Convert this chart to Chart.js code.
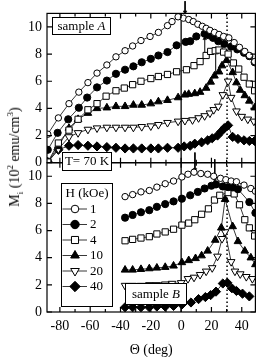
<!DOCTYPE html>
<html>
<head>
<meta charset="utf-8">
<script src="https://cdn.jsdelivr.net/npm/chart.js@4.4.1/dist/chart.umd.min.js"></script>
<style>
  html, body { margin: 0; padding: 0; background: #fff; }
  #wrap { position: relative; width: 261px; height: 357px; }
  #yTitle {
    position: absolute; left: 14.5px; top: 157px;
    transform: translate(-50%, -50%) rotate(-90deg);
    font: 14px "Liberation Serif", serif; color: #000;
    white-space: nowrap; line-height: 1;
  }
  #yTitle sup, #yTitle sub { font-size: 9px; line-height: 0; }
</style>
</head>
<body>
<div id="wrap">
  <canvas id="chart" width="261" height="357"></canvas>
  <div id="yTitle">M<sub>i</sub> (10<sup>2</sup> emu/cm<sup>3</sup>)</div>
</div>
<script>
// --- DATA: sample A (top panel) ---
const angA1 = [-88, -81, -74, -67.5, -61.5, -55.5, -49, -43, -37, -32, -26.5, -20.5, -15, -9, -6, -2, 1.5, 5, 8, 11, 14, 16.5, 19, 22, 25, 28, 31.5, 35, 38.5, 42, 45, 48.5];
const magA1 = [2.1, 3.3, 4.35, 5.2, 5.9, 6.6, 7.2, 7.8, 8.25, 8.6, 9.0, 9.3, 9.6, 10.1, 10.4, 10.75, 10.65, 10.55, 10.4, 10.2, 10.05, 9.9, 9.75, 9.6, 9.45, 9.3, 9.2, 8.85, 8.5, 8.2, 7.9, 7.45];
const angA2 = [-88, -81.5, -74.5, -67.5, -62, -55.5, -49, -43, -37, -31.5, -26, -20, -15, -9, -3, 3, 6, 10, 15.5, 18, 21, 24.5, 28.5, 33, 37, 41.5, 45, 48.5];
const magA2 = [0.95, 2.2, 3.2, 4.05, 4.8, 5.55, 6.05, 6.55, 6.85, 7.1, 7.4, 7.65, 7.9, 8.15, 8.65, 8.9, 8.95, 9.3, 9.5, 9.4, 9.2, 8.95, 8.75, 8.55, 8.35, 8.1, 7.85, 7.4];
const angA4 = [-88, -81, -74, -68, -61.5, -55.5, -49.5, -43, -37.5, -32, -26.5, -20, -15, -9, -3, 3.5, 8.5, 12.5, 16.5, 19.5, 22.5, 25, 28, 31, 34.5, 38, 41.5, 45, 48.5];
const magA4 = [0.05, 1.45, 2.4, 3.2, 3.9, 4.35, 4.9, 5.3, 5.5, 5.75, 6.0, 6.2, 6.35, 6.5, 6.7, 6.85, 7.15, 7.45, 7.9, 8.2, 8.25, 8.3, 8.15, 8.0, 7.35, 6.9, 6.3, 5.8, 5.3];
const angA10 = [-88, -81, -74, -68, -61.5, -55.5, -49, -43, -37, -31.5, -26, -20, -15, -9, -2, 2.5, 5, 9, 12.5, 16.5, 19.5, 22, 25, 27, 30, 34, 36.5, 39, 42, 45, 48.5];
const magA10 = [0.05, 1.2, 2.55, 3.2, 3.65, 4.0, 4.05, 4.15, 4.15, 4.25, 4.25, 4.35, 4.5, 4.6, 4.8, 5.0, 5.05, 5.1, 5.2, 5.5, 5.95, 6.4, 6.7, 7.15, 7.55, 6.65, 5.9, 5.35, 4.95, 4.55, 4.05];
const angA20 = [-88, -81, -74, -68, -61.5, -55.5, -49, -43, -37, -31.5, -26, -20, -15, -9, -2, 2.5, 7.5, 11.5, 15.5, 19, 21.5, 24.5, 27.5, 31, 33, 36.5, 40, 44, 48];
const magA20 = [0.05, 1.0, 1.9, 2.2, 2.45, 2.55, 2.6, 2.6, 2.6, 2.6, 2.65, 2.7, 2.8, 2.95, 3.05, 3.1, 3.15, 3.3, 3.45, 3.65, 3.9, 4.15, 5.0, 6.0, 4.8, 3.8, 3.4, 3.2, 3.05];
const angA40 = [-88, -81, -74, -68, -61.5, -55.5, -49, -43, -37, -31.5, -26, -20, -15, -9, -2, 2, 6, 9, 13.5, 17.5, 20.5, 24, 26.5, 28.5, 31, 34, 37.5, 41.5, 45, 48.5];
const magA40 = [0.05, 0.95, 1.25, 1.3, 1.25, 1.2, 1.15, 1.1, 1.05, 1.05, 1.05, 1.05, 1.05, 1.1, 1.1, 1.2, 1.25, 1.4, 1.5, 1.65, 1.8, 2.0, 2.3, 2.55, 2.75, 1.9, 1.75, 1.65, 1.6, 1.6];

// --- DATA: sample B (bottom panel) ---
const angB1 = [-37, -32, -26.5, -21, -16, -10.5, -5, 0.5, 4.5, 8.5, 13, 17.5, 21.5, 26, 29.5, 33, 36.5, 41.5, 46, 49];
const magB1 = [8.5, 8.65, 8.85, 8.95, 9.2, 9.45, 9.65, 9.95, 10.15, 10.3, 10.2, 10.15, 10.0, 9.85, 9.75, 9.65, 9.6, 9.35, 9.1, 8.9];
const angB2 = [-37, -32, -26.5, -21, -16, -10.5, -5, 0.5, 6, 11, 15.5, 20, 23, 27.5, 31, 34, 37.5, 45, 49];
const magB2 = [6.95, 7.15, 7.35, 7.5, 7.75, 7.95, 8.15, 8.35, 8.6, 8.85, 9.1, 9.3, 9.4, 9.25, 9.2, 9.2, 9.05, 8.1, 7.3];
const angB4 = [-37, -32, -26.5, -21, -16, -10.5, -5, 0.5, 5, 9, 13.5, 18, 22, 25.5, 31, 35, 38.5, 42, 45, 48.5];
const magB4 = [5.25, 5.35, 5.45, 5.55, 5.75, 5.9, 6.1, 6.4, 6.55, 6.8, 7.2, 7.6, 8.25, 8.6, 8.8, 8.7, 7.9, 6.8, 6.2, 5.6];
const angB10 = [-37, -32, -26.5, -21, -16, -10.5, -5, 0.5, 5, 9.5, 13.5, 17.5, 22.5, 26.5, 29, 34, 37.5, 42, 46, 49];
const magB10 = [3.1, 3.1, 3.15, 3.2, 3.25, 3.3, 3.4, 3.65, 3.8, 3.95, 4.15, 4.5, 5.3, 6.2, 8.3, 6.3, 5.2, 4.5, 4.0, 3.5];
const angB20 = [-37, -32, -26.5, -21, -16, -10.5, -6, 0, 4.5, 8.5, 12.5, 16.5, 20.5, 24, 27, 29, 33, 35.5, 39, 43, 47];
const magB20 = [1.95, 1.95, 1.95, 2.0, 2.0, 2.05, 2.1, 2.15, 2.45, 2.55, 2.75, 3.0, 3.25, 4.1, 5.4, 5.9, 3.7, 3.0, 2.8, 2.6, 2.45];
const angB40 = [-37, -32, -26.5, -21, -16, -10.5, -5, 0.5, 6.5, 11.5, 16, 19.5, 23, 27.5, 30.5, 33.5, 36.5, 40.5, 45];
const magB40 = [0.35, 0.35, 0.35, 0.35, 0.4, 0.4, 0.45, 0.55, 0.7, 0.95, 1.1, 1.25, 1.5, 2.1, 2.15, 1.75, 1.55, 1.35, 1.15];

// --- axes / annotations ---
const fieldLabels = ["1", "2", "4", "10", "20", "40"];
const xTickValues = [-80, -60, -40, -20, 0, 20, 40];
const yTickValues = [0, 2, 4, 6, 8, 10];
const solidLineAngle = 0;
const dottedLineAngle = 30.3;
// arrows: [angle, tail value, head value, panel]
const arrows = [
  [2.6, 11.9, 11.1, "yA"],
  [15.6, 7.9, 9.15, "yA"],
  [22.8, 6.5, 8.4, "yA"],
  [9.1, 11.75, 10.5, "yB"],
  [22.2, 11.25, 9.75, "yB"],
];

// marker style per field (same order as fieldLabels)
const markers = [
  { pointStyle: "circle", fill: "#fff", radius: 3.2, rotation: 0 },
  { pointStyle: "circle", fill: "#000", radius: 3.6, rotation: 0 },
  { pointStyle: "rect", fill: "#fff", radius: 4.4, rotation: 0 },
  { pointStyle: "triangle", fill: "#000", radius: 4.4, rotation: 0 },
  { pointStyle: "triangle", fill: "#fff", radius: 4.4, rotation: 180 },
  { pointStyle: "rectRot", fill: "#000", radius: 4.6, rotation: 0 },
];

const FONT = '"Liberation Serif", serif';

function serie(label, angles, values, axis, m) {
  return {
    label,
    data: angles.map((a, i) => ({ x: a, y: values[i] })),
    yAxisID: axis,
    borderColor: "#222",
    borderWidth: 0.9,
    pointStyle: m.pointStyle,
    pointRotation: m.rotation,
    pointRadius: m.radius,
    pointBackgroundColor: m.fill,
    pointBorderColor: "#000",
    pointBorderWidth: 1,
    tension: 0,
  };
}

const seriesA = [[angA1, magA1], [angA2, magA2], [angA4, magA4], [angA10, magA10], [angA20, magA20], [angA40, magA40]];
const seriesB = [[angB1, magB1], [angB2, magB2], [angB4, magB4], [angB10, magB10], [angB20, magB20], [angB40, magB40]];

const datasets = [];
seriesA.forEach((s, i) => datasets.push(serie("A " + fieldLabels[i], s[0], s[1], "yA", markers[i])));
seriesB.forEach((s, i) => datasets.push(serie("B " + fieldLabels[i], s[0], s[1], "yB", markers[i])));
arrows.forEach(([ang, from, to, axis]) => {
  datasets.push({
    label: "arrow",
    data: [{ x: ang, y: from }, { x: ang, y: to }],
    yAxisID: axis,
    borderColor: "#000",
    borderWidth: 1,
    pointRadius: [0, 2.2],
    pointStyle: "triangle",
    pointRotation: to > from ? 0 : 180,
    pointBackgroundColor: "#000",
    pointBorderColor: "#000",
    pointBorderWidth: 0.5,
    clip: false,
  });
});

// --- PLUGINS ---
const refLines = {
  id: "refLines",
  beforeDatasetsDraw(chart) {
    const { ctx, chartArea: a, scales } = chart;
    ctx.save();
    ctx.strokeStyle = "#000";
    const x0 = scales.x.getPixelForValue(solidLineAngle);
    ctx.lineWidth = 1.3;
    ctx.beginPath();
    ctx.moveTo(x0, a.top);
    ctx.lineTo(x0, a.bottom);
    ctx.stroke();
    const xd = scales.x.getPixelForValue(dottedLineAngle);
    ctx.lineWidth = 1.5;
    ctx.setLineDash([1.5, 2.5]);
    ctx.beginPath();
    ctx.moveTo(xd, a.top);
    ctx.lineTo(xd, a.bottom);
    ctx.stroke();
    ctx.restore();
  },
};

const frames = {
  id: "frames",
  afterDatasetsDraw(chart) {
    const { ctx, chartArea: a, scales } = chart;
    const x = scales.x;
    ctx.save();
    ctx.strokeStyle = "#000";
    ctx.lineWidth = 1.2;
    ["yA", "yB"].forEach(id => {
      const s = scales[id];
      ctx.strokeRect(a.left, s.top, a.right - a.left, s.bottom - s.top);
      ctx.beginPath();
      for (let v = -80; v <= 40; v += 10) {
        const px = x.getPixelForValue(v);
        const len = v % 20 === 0 ? 5 : 3;
        ctx.moveTo(px, s.bottom);
        ctx.lineTo(px, s.bottom - len);
        ctx.moveTo(px, s.top);
        ctx.lineTo(px, s.top + len);
      }
      yTickValues.forEach(v => {
        const py = s.getPixelForValue(v);
        ctx.moveTo(a.left, py);
        ctx.lineTo(a.left + 5, py);
        ctx.moveTo(a.right, py);
        ctx.lineTo(a.right - 5, py);
      });
      ctx.stroke();
    });
    ctx.restore();
  },
};

// text boxes and the field legend
const notes = [
  { parts: [["sample ", ""], ["A", "italic "]], x: 52, y: 17, w: 59, h: 18 },
  { parts: [["T= 70 K", ""]], x: 62, y: 152, w: 50, h: 19 },
  { parts: [["sample ", ""], ["B", "italic "]], x: 125, y: 283, w: 62, h: 22 },
];
const legendBox = { x: 61, y: 183, w: 52, h: 124, title: "H (kOe)", titleY: 193.5, rowY: 209, rowStep: 15.5, lineX0: 62.5, lineX1: 87, markX: 75, textX: 90 };

const boxes = {
  id: "boxes",
  afterDraw(chart) {
    const { ctx } = chart;
    ctx.save();
    ctx.lineWidth = 1;
    ctx.strokeStyle = "#000";
    ctx.textBaseline = "middle";
    notes.forEach(n => {
      ctx.fillStyle = "#fff";
      ctx.fillRect(n.x, n.y, n.w, n.h);
      ctx.strokeRect(n.x + 0.5, n.y + 0.5, n.w - 1, n.h - 1);
      ctx.fillStyle = "#000";
      const widths = n.parts.map(([t, st]) => { ctx.font = st + "13px " + FONT; return ctx.measureText(t).width; });
      let tx = n.x + (n.w - widths.reduce((p, q) => p + q, 0)) / 2;
      n.parts.forEach(([t, st], i) => {
        ctx.font = st + "13px " + FONT;
        ctx.textAlign = "left";
        ctx.fillText(t, tx, n.y + n.h / 2 + 0.5);
        tx += widths[i];
      });
    });

    const L = legendBox;
    ctx.fillStyle = "#fff";
    ctx.fillRect(L.x, L.y, L.w, L.h);
    ctx.strokeRect(L.x + 0.5, L.y + 0.5, L.w - 1, L.h - 1);
    ctx.fillStyle = "#000";
    ctx.font = "13px " + FONT;
    ctx.textAlign = "center";
    ctx.fillText(L.title, L.x + L.w / 2, L.titleY);
    fieldLabels.forEach((lab, i) => {
      const y = L.rowY + i * L.rowStep;
      const m = markers[i];
      ctx.strokeStyle = "#222";
      ctx.lineWidth = 0.9;
      ctx.beginPath();
      ctx.moveTo(L.lineX0, y);
      ctx.lineTo(L.lineX1, y);
      ctx.stroke();
      ctx.fillStyle = m.fill;
      ctx.strokeStyle = "#000";
      ctx.lineWidth = 1;
      Chart.helpers.drawPoint(ctx, { pointStyle: m.pointStyle, rotation: m.rotation, radius: m.radius + 0.6, borderWidth: 1 }, L.markX, y);
      ctx.fillStyle = "#000";
      ctx.textAlign = "left";
      ctx.fillText(lab, L.textX, y + 0.5);
    });
    ctx.restore();
  },
};

const yAxis = () => ({
  type: "linear",
  position: "left",
  stack: "panels",
  stackWeight: 1,
  min: 0,
  max: 11,
  afterBuildTicks: s => { s.ticks = yTickValues.map(v => ({ value: v })); },
  afterFit: s => { s.width = 47; },
  grid: { display: false, drawTicks: false },
  border: { display: false },
  ticks: { color: "#000", font: { family: FONT, size: 14 }, padding: 5, autoSkip: false },
});

new Chart(document.getElementById("chart"), {
  type: "line",
  data: { datasets },
  options: {
    responsive: false,
    animation: false,
    devicePixelRatio: 1,
    layout: { padding: { top: 10, right: 3, left: 0, bottom: 0 } },
    plugins: { legend: { display: false }, tooltip: { enabled: false } },
    scales: {
      x: {
        type: "linear",
        min: -88.5,
        max: 49,
        afterBuildTicks: s => { s.ticks = xTickValues.map(v => ({ value: v })); },
        afterFit: s => { s.height = 45; },
        grid: { display: false, drawTicks: false },
        border: { display: false },
        ticks: { color: "#000", font: { family: FONT, size: 14 }, padding: 6, maxRotation: 0, autoSkip: false },
        title: { display: true, text: "Θ (deg)", color: "#000", font: { family: FONT, size: 14, lineHeight: 1 }, padding: { top: 0, bottom: 0 } },
      },
      // the first scale of the stack goes at the bottom
      yB: yAxis(),
      yA: yAxis(),
    },
  },
  plugins: [refLines, frames, boxes],
});
</script>
</body>
</html>
